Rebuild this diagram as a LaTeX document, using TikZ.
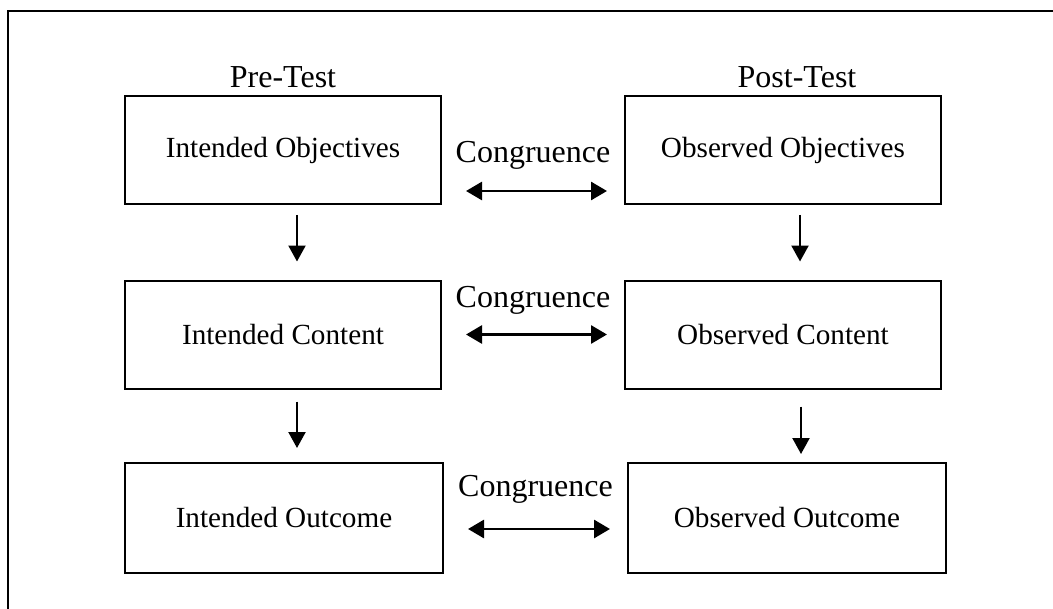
\documentclass[tikz,border=0pt]{standalone}
\usepackage{fontspec}
\setmainfont{Liberation Serif}
\usepackage{tikz}
\usetikzlibrary{arrows.meta}

\begin{document}
\begin{tikzpicture}[x=0.5pt,y=-0.5pt,
    box/.style={draw, line width=1pt, minimum width=158pt, minimum height=54pt, font=\fontsize{14.6}{17}\selectfont},
    lbl/.style={font=\fontsize{16}{19}\selectfont},
    arr/.style={-{Triangle[width=8.5pt,length=8pt]}, line width=1.1pt},
    darr/.style={{Triangle[width=9pt,length=8pt]}-{Triangle[width=9pt,length=8pt]}, line width=1.4pt, shorten <=12pt, shorten >=8.5pt}]
      \useasboundingbox (0,0) rectangle (1053,609);
      \draw[line width=1pt] (8,615) -- (8,11.5) -- (1060,11.5);

      \node[box] at (283,150) (io){Intended Objectives};
      \node[box] at (783,150) (oo){Observed Objectives};
      \node[box] at (283,334.5) (ic){Intended Content};
      \node[box] at (783,334.5) (oc){Observed Content};
      \node[box, minimum width=159pt, minimum height=55pt] at (284,518) (iu){Intended Outcome};
      \node[box, minimum width=159pt, minimum height=55pt] at (787,518) (ou){Observed Outcome};

      \node[lbl, above=0pt] at (io.north) (pre){Pre-Test};
      \node[lbl, above=0pt, xshift=7pt] at (oo.north) (post){Post-Test};

      \draw[arr, transform canvas={xshift=7pt}, shorten <=5pt, shorten >=9pt] (io) -- (ic);
      \draw[arr, transform canvas={xshift=8.5pt}, shorten <=5pt, shorten >=9pt] (oo) -- (oc);
      \draw[arr, transform canvas={xshift=7pt}, shorten <=6pt, shorten >=7pt] (ic) -- ([xshift=-0.5pt]iu.north);
      \draw[arr, shorten <=8.5pt, shorten >=4pt] ([xshift=9pt]oc.south) -- ([xshift=7pt]ou.north);

      \draw[darr, transform canvas={yshift=-20.5pt}] (io) -- node[lbl, above=7pt] {Congruence} (oo);
      \draw[darr] (ic) -- node[lbl, above=6pt] {Congruence} (oc);
      \draw[darr, transform canvas={yshift=-5.5pt}] (iu) -- node[lbl, above=9pt] {Congruence} (ou);
    \end{tikzpicture}
\end{document}
